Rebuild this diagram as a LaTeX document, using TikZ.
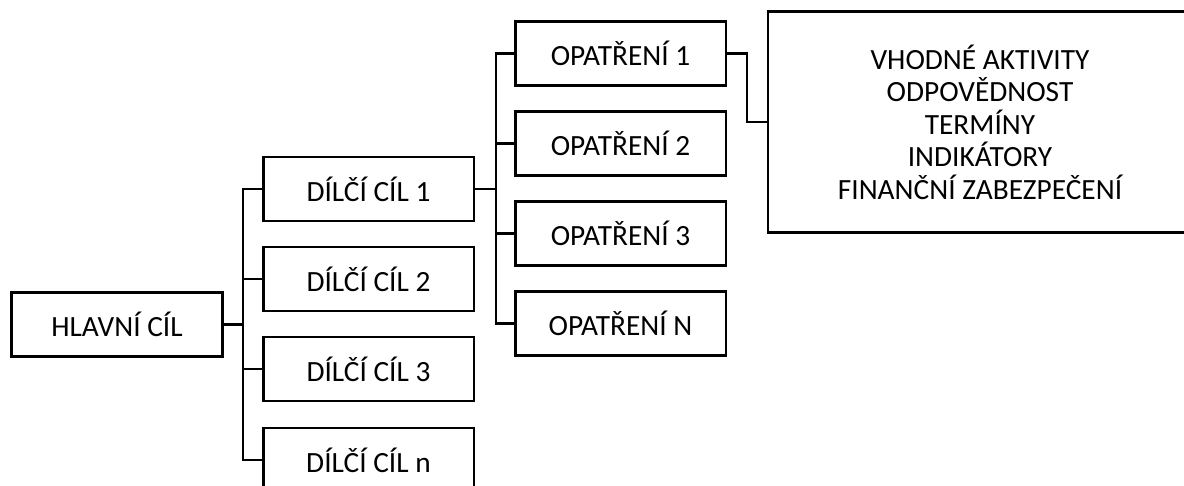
\documentclass[tikz,border=0pt]{standalone}
\usepackage{fontspec}
\setmainfont{Carlito}
\usetikzlibrary{positioning}
\tikzset{goal box/.style={rectangle,draw,line width=1pt,minimum width=79pt,minimum height=24pt,inner sep=2pt,font=\fontsize{11}{13}\selectfont},
         info box/.style={rectangle,draw,line width=1pt,minimum width=159pt,minimum height=83pt,align=center,font=\fontsize{11}{12.2}\selectfont},
         link/.style={line width=1pt,line cap=rect},
}
\begin{document}
\begin{tikzpicture}[x=0.375pt,y=-0.375pt]
% pixel grid of the reference, clipped to its frame
\clip (0,0) rectangle (1184,485);
\node[goal box] (main) at (117,324.5) {HLAVNÍ CÍL};

\node[goal box] (sub1) at (368.5,189) {DÍLČÍ CÍL 1};
\node[goal box] (sub2) at (368.5,279) {DÍLČÍ CÍL 2};
\node[goal box] (sub3) at (368.5,369) {DÍLČÍ CÍL 3};
\node[goal box] (subn) at (368.5,460) {DÍLČÍ CÍL n};

\node[goal box] (meas1) at (620.5,53.5) {OPATŘENÍ 1};
\node[goal box] (meas2) at (620.5,143.5) {OPATŘENÍ 2};
\node[goal box] (meas3) at (620.5,233.5) {OPATŘENÍ 3};
\node[goal box] (measn) at (620.5,323.5) {OPATŘENÍ N};

\node[info box] (info) at (980,122) {VHODNÉ AKTIVITY\\ODPOVĚDNOST\\TERMÍNY\\INDIKÁTORY\\FINANČNÍ ZABEZPEČENÍ};

% junctions
\coordinate (j1) at (243,324.5);
\coordinate (j2) at (496,189);
\coordinate (j3) at (747,53.5);

\draw[link] (main.east) -- (j1);
\draw[link] (j1 |- sub1.west) -- (j1 |- subn.west);
\foreach \n in {sub1,sub2,sub3,subn}
    \draw[link] (j1 |- \n.west) -- (\n.west);

\draw[link] (sub1.east) -- (j2);
\draw[link] (j2 |- meas1.west) -- (j2 |- measn.west);
\foreach \n in {meas1,meas2,meas3,measn}
    \draw[link] (j2 |- \n.west) -- (\n.west);

\draw[link] (meas1.east) -- (j3) -- (j3 |- info.west) -- (info.west);
\end{tikzpicture}
\end{document}
